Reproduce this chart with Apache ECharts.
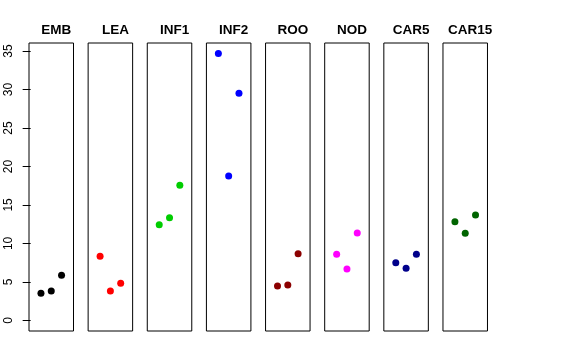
<!DOCTYPE html>
<html>
<head>
<meta charset="utf-8">
<script src="https://cdn.jsdelivr.net/npm/echarts@6/dist/echarts.min.js"></script>
<style>html,body{margin:0;padding:0;background:#fff}#c{width:576px;height:360px}</style>
</head>
<body>
<div id="c"></div>
<script>
const categories = ['EMB', 'LEA', 'INF1', 'INF2', 'ROO', 'NOD', 'CAR5', 'CAR15'];
const values = [
  [3.51, 3.81, 5.85],
  [8.32, 3.81, 4.81],
  [12.43, 13.34, 17.55],
  [34.67, 18.76, 29.52],
  [4.46, 4.59, 8.66],
  [8.58, 6.67, 11.35],
  [7.49, 6.76, 8.58],
  [12.82, 11.31, 13.69]
];
const colors = ['#000000', '#FF0000', '#00CD00', '#0000FF', '#8B0000', '#FF00FF', '#00008B', '#006400'];
const yTicks = [0, 5, 10, 15, 20, 25, 30, 35];

(function () {
const chart = echarts.init(document.getElementById('c'), null, {renderer: 'canvas'});
const grids = [], xAxes = [], yAxes = [], series = [], titles = [];
const left0 = 29, pitch = 59.14, gw = 44.5, gTop = 43, gh = 288;
const yMin = -1.387, yMax = 36.05;
categories.forEach((cat, i) => {
  const l = left0 + pitch * i;
  grids.push({left: l, top: gTop, width: gw, height: gh, show: true, borderColor: '#000', borderWidth: 1, backgroundColor: 'transparent'});
  xAxes.push({gridIndex: i, type: 'value', min: -0.16, max: 4.16, show: false});
  yAxes.push({
    gridIndex: i, type: 'value', min: yMin, max: yMax,
    show: i === 0,
    splitLine: {show: false},
    axisLine: {show: false},
    axisTick: {show: true, length: 8, customValues: yTicks, lineStyle: {color: '#000'}},
    axisLabel: {show: true, rotate: 90, margin: 14, customValues: yTicks, color: '#000', fontSize: 12, fontFamily: 'Liberation Sans, Arial, sans-serif'}
  });
  series.push({
    type: 'scatter', xAxisIndex: i, yAxisIndex: i,
    symbol: 'circle', symbolSize: 7,
    itemStyle: {color: colors[i], opacity: 1},
    data: values[i].map((v, j) => [j + 1, v]),
    silent: true
  });
  titles.push({
    text: cat, left: l + gw / 2, top: 18, textAlign: 'center',
    textStyle: {fontSize: 13.5, fontWeight: 'bold', color: '#000', fontFamily: 'Liberation Sans, Arial, sans-serif'}
  });
});
chart.setOption({
  animation: false,
  title: titles,
  grid: grids,
  xAxis: xAxes,
  yAxis: yAxes,
  series: series
});
})();
</script>
</body>
</html>
